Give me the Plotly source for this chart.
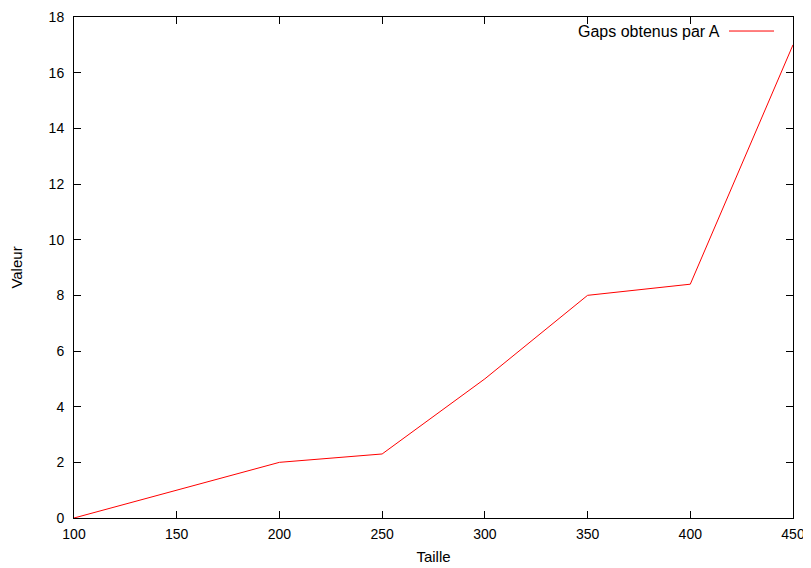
import plotly.graph_objects as go

taille = [100, 200, 250, 300, 350, 400, 450]
valeur = [0, 2, 2.3, 5, 8, 8.4, 17]
series_name = "Gaps obtenus par A"
x_ticks = [100, 150, 200, 250, 300, 350, 400, 450]
y_ticks = [0, 2, 4, 6, 8, 10, 12, 14, 16, 18]

fam = "Liberation Sans, Arial, sans-serif"
tick_font = dict(family=fam, size=14, color="black")
text_font = dict(family=fam, size=15, color="black")

fig = go.Figure()
fig.add_trace(go.Scatter(x=taille, y=valeur, mode="lines", name=series_name,
                         line=dict(color="#ff0000", width=1), showlegend=False))

axis_common = dict(showline=True, mirror="ticks", linecolor="black", linewidth=1,
                   ticks="inside", ticklen=7, tickwidth=1, tickcolor="black",
                   showgrid=False, zeroline=False, tickfont=tick_font,
                   automargin=False)

# the page body adds an 8px offset, so the figure is 8px smaller on each side
fig.update_layout(
    width=803, height=560,
    margin=dict(l=66, r=18, t=9, b=50),
    plot_bgcolor="white", paper_bgcolor="white",
    font=tick_font,
    xaxis=dict(range=[100, 450], tickvals=x_ticks, ticklabelstandoff=3,
               title=dict(text="Taille", font=text_font, standoff=10), **axis_common),
    yaxis=dict(range=[0, 18], tickvals=y_ticks, ticklabelstandoff=6,
               title=dict(text="Valeur", font=text_font, standoff=22), **axis_common),
    showlegend=False,
)

# gnuplot-style key: text then line sample, top right inside the frame
fig.add_annotation(xref="paper", yref="paper", x=0.901, y=0.971, xanchor="right",
                   yanchor="middle", text=series_name, showarrow=False,
                   font=dict(family=fam, size=16, color="black"))
fig.add_shape(type="line", xref="paper", yref="paper", x0=0.911, x1=0.9736,
              y0=0.972, y1=0.972, line=dict(color="#ff0000", width=1))

fig.write_html("out.html")
